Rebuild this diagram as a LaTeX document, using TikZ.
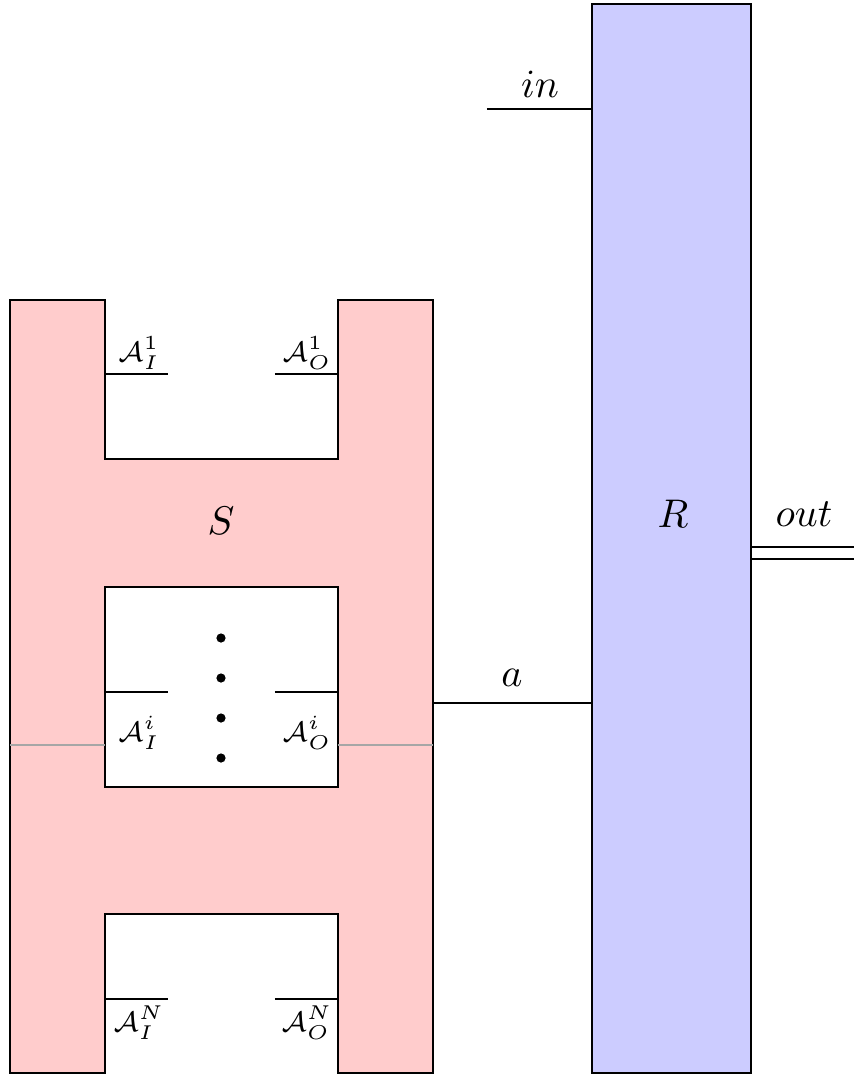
\documentclass[tikz,border=0pt]{standalone}
\usetikzlibrary{calc}
\begin{document}
\begin{tikzpicture}[x=0.25pt,y=-0.25pt,
  sfill/.style={fill=red!20},
  rfill/.style={fill=blue!20},
  edge/.style={draw=black,line width=0.5pt},
  wire/.style={draw=black,line width=0.45pt},
  seam/.style={draw=black!35,line width=0.35pt},
  port/.style={inner sep=0pt,font=\scriptsize},
  lbl/.style={inner sep=0pt},
  dot/.style={circle,fill=black,inner sep=0pt,minimum size=2.3pt}]
\useasboundingbox (0,0) rectangle (854,1075);

% --- system S: upper half (first module and the i-th hole)
\fill[sfill] (10,300) -- (105,300) -- (105,459) -- (338,459) -- (338,300)
  -- (433,300) -- (433,745) -- (338,745) -- (338,587) -- (105,587)
  -- (105,745) -- (10,745) -- cycle;
% --- system S: lower half (rest of the i-th hole and the N-th module)
\fill[sfill] (10,745) -- (105,745) -- (105,787) -- (338,787) -- (338,745)
  -- (433,745) -- (433,1073) -- (338,1073) -- (338,914) -- (105,914)
  -- (105,1073) -- (10,1073) -- cycle;
% outlines
\draw[edge] (10,300) -- (105,300) -- (105,459) -- (338,459) -- (338,300)
  -- (433,300) -- (433,1073) -- (338,1073) -- (338,914) -- (105,914)
  -- (105,1073) -- (10,1073) -- cycle;
\draw[edge] (105,587) rectangle (338,787);
\draw[seam] (10,745) -- (105,745) (338,745) -- (433,745);
\node[lbl] (S) at (221,521) {$S$};

% --- resource R
\draw[edge,rfill] (592,4) rectangle (751,1073);
\node[lbl] (R) at (673,514) {$R$};

% --- ports of S
\coordinate (i1a) at (105,374); \coordinate (i1b) at (168,374);
\coordinate (o1a) at (275,374); \coordinate (o1b) at (338,374);
\coordinate (iia) at (105,692); \coordinate (iib) at (168,692);
\coordinate (oia) at (275,692); \coordinate (oib) at (338,692);
\coordinate (iNa) at (105,999); \coordinate (iNb) at (168,999);
\coordinate (oNa) at (275,999); \coordinate (oNb) at (338,999);
\draw[wire] (i1a) -- (i1b) (o1a) -- (o1b);
\draw[wire] (iia) -- (iib) (oia) -- (oib);
\draw[wire] (iNa) -- (iNb) (oNa) -- (oNb);
\node[port] (AI1) at (139,353) {$\mathcal{A}_I^1$};
\node[port] (AO1) at (307,353) {$\mathcal{A}_O^1$};
\node[port] (AIi) at (139,733) {$\mathcal{A}_I^i$};
\node[port] (AOi) at (307,733) {$\mathcal{A}_O^i$};
\node[port] (AIN) at (139,1023) {$\mathcal{A}_I^N$};
\node[port] (AON) at (307,1023) {$\mathcal{A}_O^N$};

% vertical dots between the modules
\foreach \y/\n in {638/d1,678/d2,718/d3,758/d4}
  \node[dot] (\n) at (221,\y) {};

% --- interfaces of R
\coordinate (inL) at (487,109); \coordinate (inR) at (592,109);
\draw[wire] (inL) -- (inR);
\node[lbl] (in) at (540,84) {$in$};

\coordinate (aS) at (433,703); \coordinate (aR) at (592,703);
\draw[wire] (aS) -- (aR);
\node[lbl] (a) at (512,678) {$a$};

\coordinate (outA) at (751,547); \coordinate (outB) at (854,547);
\coordinate (outC) at (751,559); \coordinate (outD) at (854,559);
\draw[wire] (outA) -- (outB) (outC) -- (outD);
\node[lbl] (out) at (804,514) {$out$};
\end{tikzpicture}
\end{document}
